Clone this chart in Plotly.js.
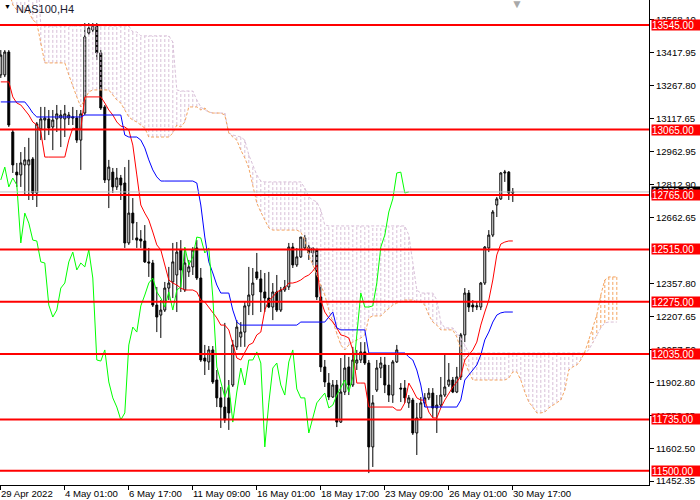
<!DOCTYPE html>
<html><head><meta charset="utf-8">
<script src="https://cdn.plot.ly/plotly-3.0.1.min.js"></script>
<style>html,body{margin:0;padding:0;background:#fff}#chart{width:700px;height:500px}</style>
</head><body><div id="chart"></div>
<script>
// NAS100 H4 candles (bar index 0 = 29 Apr 2022)
const openP = [13316,13316,13421,13054,12870,12857,12903,12903,12930,12774,
13068,13109,13114,13077,13114,13118,13114,13118,13118,13118,
13017,13141,13508,13522,13540,13417,13169,12834,12870,12802,
12843,12820,12545,12682,12568,12563,12554,12458,12453,12260,
12214,12237,12338,12366,12398,12513,12329,12412,12435,12522,
12384,12017,11999,12054,11916,11834,11792,11834,11893,12068,
12113,12136,12256,12306,12412,12380,12320,12292,12251,12320,
12237,12329,12343,12526,12444,12481,12522,12526,12499,12513,
12297,11976,11902,11838,11893,11723,11861,11976,11893,11994,
12008,12045,11994,11609,11870,11971,11985,11893,11847,11999,
11879,11879,11811,11824,11673,11742,11811,11834,11856,11788,
11801,11847,11893,11916,11861,11930,12123,12315,12260,12251,
12251,12361,12522,12581,12719,12747,12866,12870,12774];
const highP = [13430,13430,13430,13063,12912,12962,12985,13027,12939,13100,
13169,13169,13155,13155,13178,13155,13178,13146,13169,13155,
13155,13554,13554,13554,13554,13430,13178,12926,12889,12889,
12857,12893,12926,12751,12641,12604,12627,12522,12467,12343,
12283,12366,12435,12545,12549,12558,12522,12467,12526,12558,
12430,12077,12072,12072,11962,11884,12178,11916,12100,12191,
12182,12274,12435,12430,12499,12421,12407,12412,12361,12398,
12343,12375,12545,12545,12522,12572,12581,12536,12526,12522,
12352,12008,11948,11916,11916,12017,12040,12022,12068,12054,
12090,12090,12008,11847,12008,12022,12022,11985,12008,12077,
11902,11916,11847,11834,11811,11838,11856,11879,11879,11847,
11930,12031,11994,11930,11976,12132,12338,12329,12283,12274,
12366,12531,12604,12696,12756,12870,12880,12875,12797];
const lowP = [13302,13306,13077,12866,12802,12802,12765,12742,12742,12710,
13017,13017,13040,12971,13054,12985,13031,13086,13086,13004,
12880,13132,13499,13513,13384,13155,12820,12705,12774,12788,
12742,12522,12536,12558,12522,12522,12453,12389,12251,12136,
12109,12228,12283,12292,12228,12320,12320,12389,12398,12375,
11999,11939,11962,11898,11792,11696,11719,11687,11884,12054,
12068,12068,12214,12214,12375,12228,12228,12246,12191,12228,
12228,12320,12329,12430,12435,12476,12513,12467,12444,12283,
11953,11884,11824,11834,11700,11719,11847,11847,11884,11962,
11994,11985,11489,11517,11861,11925,11856,11815,11811,11994,
11815,11811,11788,11664,11572,11733,11792,11824,11742,11673,
11792,11838,11884,11856,11856,11916,12090,12228,12228,12237,
12237,12352,12503,12572,12664,12742,12825,12742,12733];
const closeP = [13407,13421,13086,12903,12857,12912,12926,12926,12774,13091,
13114,13118,13072,13109,13137,13132,13137,13132,13123,13017,
13137,13490,13531,13545,13417,13164,12834,12893,12802,12843,
12811,12545,12682,12636,12558,12554,12458,12453,12260,12205,
12237,12338,12361,12458,12503,12421,12453,12435,12513,12384,
12008,12003,12054,11907,11834,11792,11733,11765,12077,12159,
12136,12256,12306,12361,12384,12320,12292,12251,12320,12237,
12329,12343,12526,12444,12481,12572,12568,12499,12522,12297,
11976,11907,11838,11893,11723,11861,11971,11893,12008,12008,
12045,11994,11609,11811,11971,11994,11893,11847,11999,12054,
11875,11834,11834,11673,11742,11811,11834,11856,11788,11801,
11847,11884,11916,11861,11930,12123,12315,12251,12251,12256,
12361,12526,12581,12687,12747,12866,12870,12774,12779];

// Ichimoku lines
const tenkan = [13284,13284,13284,13215,13187,13178,13155,13132,13100,13086,
13054,12939,12939,12939,12939,12939,12939,13017,13072,13068,
13068,13215,13215,13215,13215,13215,13187,13155,13132,13100,
13081,13077,13063,12994,12857,12719,12682,12650,12595,12536,
12513,12444,12375,12361,12352,12338,12329,12329,12329,12320,
12283,12274,12251,12228,12201,12168,12168,12146,12077,12017,
12008,12045,12077,12086,12123,12136,12237,12283,12297,12320,
12329,12338,12361,12361,12366,12375,12389,12398,12416,12444,
12283,12228,12201,12182,12155,12123,12118,12109,12054,11902,
11902,11902,11792,11792,11792,11792,11792,11792,11792,11778,
11778,11811,11902,11870,11834,11824,11824,11769,11742,11742,
11788,11824,11856,11884,11907,11934,12008,12031,12054,12090,
12168,12228,12283,12375,12490,12540,12549,12554,12554];
const kijun = [13192,13192,13192,13192,13192,13192,13192,13169,13141,13123,
13123,13123,13123,13123,13123,13123,13123,13123,13123,13123,
13123,13132,13132,13132,13132,13132,13132,13132,13132,13132,
13132,13040,13031,13031,13031,13017,12981,12926,12880,12848,
12829,12829,12829,12829,12829,12829,12829,12829,12829,12820,
12719,12572,12458,12407,12352,12315,12315,12315,12237,12182,
12168,12168,12168,12168,12168,12168,12168,12168,12168,12168,
12168,12168,12168,12168,12168,12182,12182,12182,12182,12182,
12182,12182,12205,12228,12155,12146,12146,12146,12146,12146,
12146,12146,12040,12040,12040,12040,12040,12040,12040,12040,
12040,12040,12022,12008,11962,11893,11792,11792,11792,11792,
11792,11792,11792,11792,11792,11824,11916,11939,11962,11985,
12031,12100,12136,12182,12214,12224,12228,12228,12228];
const spanA = [13843,13797,13706,13637,13614,13614,13614,13605,13568,13554,
13453,13371,13371,13371,13371,13371,13371,13316,13261,13215,
13169,13201,13238,13247,13247,13247,13247,13247,13224,13201,
13187,13155,13123,13109,13100,13086,13072,13031,13031,13031,
13031,13031,13031,13049,13086,13077,13100,13169,13169,13169,
13155,13164,13146,13141,13141,13141,13132,13049,13031,13017,
12971,12935,12889,12811,12728,12687,12650,12614,12604,12604,
12604,12604,12604,12604,12604,12595,12558,12490,12444,12398,
12343,12306,12237,12182,12123,12077,12054,12077,12090,12100,
12109,12123,12201,12210,12210,12210,12228,12246,12260,12269,
12274,12283,12283,12283,12274,12274,12260,12214,12182,12168,
12146,12146,12146,12146,12113,12054,11999,11953,11916,11916,
11916,11916,11916,11916,11916,11916,11916,11925,11953,11953,
11916,11861,11815,11792,11765,11765,11769,11788,11801,11815,
11824,11870,11962,11976,11985,12008,12045,12100,12159,12214,
12306,12375,12389,12389,12389];
const spanB = [13843,13843,13843,13843,13843,13843,13843,13843,13843,13843,
13540,13540,13540,13540,13540,13540,13540,13540,13540,13540,
13540,13540,13540,13540,13540,13540,13540,13540,13540,13540,
13540,13540,13540,13513,13513,13495,13495,13495,13495,13495,
13495,13495,13495,13467,13247,13242,13242,13242,13242,13201,
13169,13155,13146,13141,13141,13141,13141,13049,13040,13036,
13031,13017,12949,12903,12857,12829,12825,12825,12825,12825,
12825,12825,12825,12825,12825,12825,12797,12756,12742,12733,
12696,12627,12623,12623,12623,12623,12623,12623,12623,12623,
12623,12623,12623,12623,12623,12623,12623,12623,12623,12623,
12623,12623,12581,12444,12329,12315,12315,12315,12315,12283,
12182,12155,12155,12155,12132,12109,12077,12040,12040,12040,
12040,12040,12040,12040,12040,12040,12040,12040,12040,12040,
12040,12040,12040,12040,12040,12040,12040,12040,12040,12040,
12040,12040,12040,12040,12040,12040,12040,12054,12086,12118,
12155,12178,12182,12182,12182];
const chikouShift = 26;

// Horizontal levels
const levels = [13545, 13065, 12765, 12515, 12275, 12035, 11735, 11500];

// Axis ticks
const yTickVals = [13568.10,13417.95,13267.80,13117.65,12962.95,12812.90,12662.65,12357.80,12207.65,12057.50,11902.80,11752.65,11602.50,11452.35];
const yTickText = ["13568.10","13417.95","13267.80","13117.65","12962.95","12812.90","12662.65","12357.80","12207.65","12057.50","11902.80","11752.65","11602.50","11452.35"];
const xTickBars = [0,16,32,48,64,80,96,112,128];
const xTickText = ["29 Apr 2022","4 May 01:00","6 May 17:00","11 May 09:00","16 May 01:00","18 May 17:00","23 May 09:00","26 May 01:00","30 May 17:00"];

const FONT = "Liberation Sans, Arial, sans-serif";
const idx = closeP.map((_, i) => i);
const cloudIdx = spanA.map((_, i) => i);

// cloud hatching: a vertical dotted segment per bar
const hxB = [], hyB = [], hxA = [], hyA = [];
spanA.forEach((a, i) => {
  const b = spanB[i];
  if (a > b) { hxA.push(i, i, null); hyA.push(a, b, null); }
  else { hxB.push(i, i, null); hyB.push(a, b, null); }
});

const chikouY = closeP.slice(chikouShift);
const chikouX = chikouY.map((_, i) => i);

const base = {type: 'scatter', mode: 'lines', hoverinfo: 'skip', showlegend: false};
const traces = [
  Object.assign({}, base, {x: hxB, y: hyB, line: {color: '#D8BFD8', width: 1, dash: '3px,2px'}}),
  Object.assign({}, base, {x: hxA, y: hyA, line: {color: '#F4A460', width: 1, dash: '3px,2px'}}),
  Object.assign({}, base, {x: cloudIdx, y: spanB, line: {color: '#D8BFD8', width: 1, dash: '3px,2px'}}),
  Object.assign({}, base, {x: cloudIdx, y: spanA, line: {color: '#F4A460', width: 1, dash: '3px,2px'}}),
  {
    type: 'candlestick', x: idx, open: openP, high: highP, low: lowP, close: closeP,
    increasing: {line: {color: '#000000', width: 1}, fillcolor: '#FFFFFF'},
    decreasing: {line: {color: '#000000', width: 1}, fillcolor: '#000000'},
    whiskerwidth: 0, hoverinfo: 'skip', showlegend: false
  },
  Object.assign({}, base, {x: idx, y: tenkan, line: {color: '#FF0000', width: 1}}),
  Object.assign({}, base, {x: idx, y: kijun, line: {color: '#0000FF', width: 1}}),
  Object.assign({}, base, {x: chikouX, y: chikouY, line: {color: '#00FF00', width: 1}})
];

const lastClose = closeP[closeP.length - 1];
const shapes = [{type: 'line', xref: 'paper', x0: 0, x1: 1, yref: 'y', y0: lastClose, y1: lastClose,
  line: {color: '#C0C0C0', width: 1}, layer: 'above'}];
levels.forEach(lv => shapes.push({type: 'line', xref: 'paper', x0: 0, x1: 1, yref: 'y', y0: lv, y1: lv,
  line: {color: '#FF0000', width: 2}, layer: 'above'}));

const annotations = [{
  xref: 'paper', x: 1, xanchor: 'left', xshift: 2, yref: 'y', y: lastClose, text: lastClose.toFixed(2),
  showarrow: false, bgcolor: '#000000', font: {color: '#FFFFFF', size: 10, family: FONT},
  borderpad: 0, width: 48, height: 10, align: 'left'
}];
levels.forEach(lv => annotations.push({
  xref: 'paper', x: 1, xanchor: 'left', xshift: 2, yref: 'y', y: lv, text: lv.toFixed(2),
  showarrow: false, bgcolor: '#FF0000', font: {color: '#FFFFFF', size: 10, family: FONT},
  borderpad: 0, width: 48, height: 10, align: 'left'
}));
// time labels, left-aligned on their tick like the terminal draws them
xTickBars.forEach((b, k) => annotations.push({
  xref: 'x', x: b, xanchor: 'left', xshift: -1, yref: 'paper', y: 0, yanchor: 'top', yshift: -2,
  text: xTickText[k], showarrow: false, font: {size: 9.6, color: '#000000', family: FONT}, borderpad: 0
}));
annotations.push({xref: 'paper', yref: 'paper', x: 0, y: 1, xanchor: 'left', yanchor: 'top', xshift: 2, yshift: -1,
  text: '▼', showarrow: false, font: {size: 7, color: '#000000', family: FONT}});
annotations.push({xref: 'paper', yref: 'paper', x: 0, y: 1, xanchor: 'left', yanchor: 'top', xshift: 14, yshift: -1,
  text: 'NAS100,H4', showarrow: false, font: {size: 11, color: '#1a1a2e', family: FONT}});
annotations.push({xref: 'x', yref: 'paper', x: 129, y: 1, xanchor: 'center', yanchor: 'top', yshift: 5,
  text: '▼', showarrow: false, font: {size: 12, color: '#A9A9A9', family: FONT}});

const layout = {
  width: 700, height: 500,
  margin: {l: 0, r: 51, t: 0, b: 15},
  paper_bgcolor: '#FFFFFF', plot_bgcolor: '#FFFFFF',
  showlegend: false, hovermode: false, dragmode: false,
  font: {family: FONT, size: 10, color: '#000000'},
  xaxis: {
    type: 'linear', range: [-0.2, 162.05], rangeslider: {visible: false},
    tickmode: 'array', tickvals: xTickBars, showticklabels: false,
    ticks: 'outside', ticklen: 4, tickcolor: '#000000',
    showline: true, linecolor: '#000000', linewidth: 1, mirror: false,
    showgrid: false, zeroline: false
  },
  yaxis: {
    side: 'right', range: [11434.3, 13659.7],
    tickmode: 'array', tickvals: yTickVals, ticktext: yTickText,
    ticks: 'outside', ticklen: 4, tickcolor: '#000000',
    showline: true, linecolor: '#000000', linewidth: 1,
    showgrid: false, zeroline: false, tickfont: {size: 9.6, family: FONT, color: '#000000'}
  },
  shapes: shapes, annotations: annotations
};

Plotly.newPlot('chart', traces, layout, {displayModeBar: false, staticPlot: true});
</script></body></html>
